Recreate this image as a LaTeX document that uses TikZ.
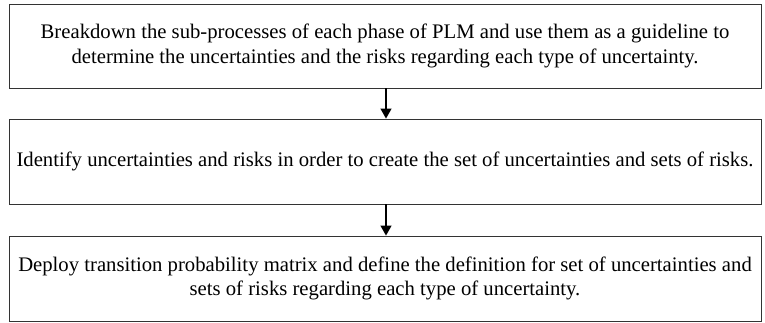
\documentclass[tikz,border=0pt]{standalone}
\usepackage{fontspec}
\setmainfont{Liberation Serif}
\usetikzlibrary{arrows.meta}
\begin{document}
\begin{tikzpicture}[x=1pt,y=-1pt,
  stepbox/.style={draw=black!80,line width=0.9pt,minimum width=752pt,align=center,inner sep=0pt,
    font=\fontsize{20.7}{24.3}\selectfont},
  flow/.style={line width=1.3pt,-{Triangle[length=10pt,width=11pt]}}]
\useasboundingbox (0,0) rectangle (765,322);
\node[stepbox,minimum height=84pt] (b1) at (385,46) {Breakdown the sub-processes of each phase of PLM and use them as a guideline to\\determine the uncertainties and the risks regarding each type of uncertainty.};
\node[stepbox,minimum height=85pt] (b2) at (385,161.5) {Identify uncertainties and risks in order to create the set of uncertainties and sets of risks.};
\node[stepbox,minimum height=85pt] (b3) at (385,278.5) {Deploy transition probability matrix and define the definition for set of uncertainties and\\sets of risks regarding each type of uncertainty.};
\draw[flow] (b1.south -| 386,0) -- (b2.north -| 386,0);
\draw[flow] (b2.south -| 386,0) -- (b3.north -| 386,0);
\end{tikzpicture}
\end{document}
